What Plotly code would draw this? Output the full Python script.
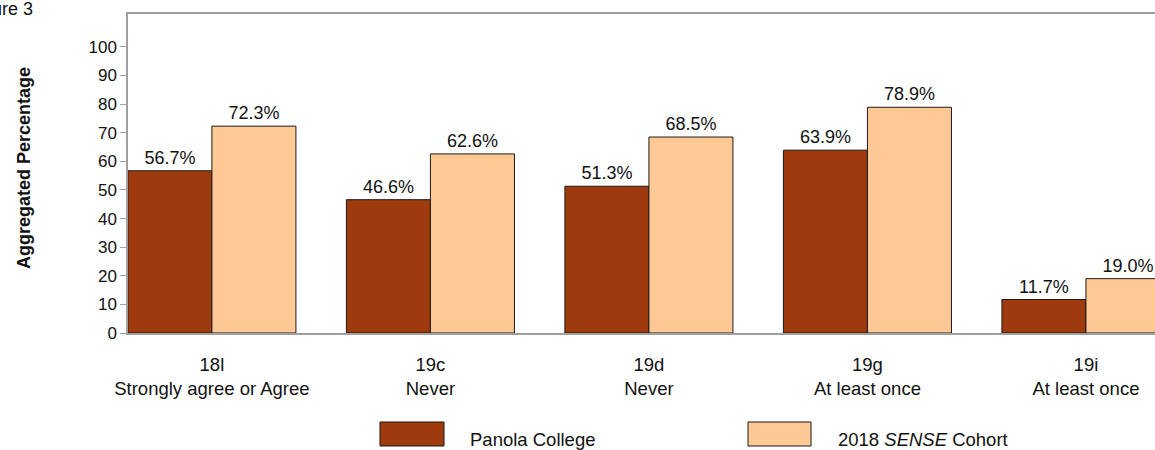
import plotly.graph_objects as go

categories = ["18l<br>Strongly agree or Agree", "19c<br>Never", "19d<br>Never",
              "19g<br>At least once", "19i<br>At least once"]
panola = [56.7, 46.6, 51.3, 63.9, 11.7]
cohort = [72.3, 62.6, 68.5, 78.9, 19.0]
series_names = ["Panola College", "2018 <i>SENSE</i> Cohort"]
y_ticks = [0, 10, 20, 30, 40, 50, 60, 70, 80, 90, 100]

W, H = 1155, 450
# plot-area edges in pixels
L, T, B, R = 128, 14, 333, 1155
FONT = "Arial, Liberation Sans, sans-serif"
C1 = "#9E3A0D"
C2 = "#FFC996"


def px(x):
    return (x - L) / (R - L)


def py(y):
    return (B - y) / (B - T)


fig = go.Figure()
for vals, color, name in [(panola, C1, series_names[0]), (cohort, C2, series_names[1])]:
    fig.add_trace(go.Bar(
        x=categories, y=vals, name=name,
        marker=dict(color=color, line=dict(color="#1a1a1a", width=1)),
        text=[f"{v:.1f}%" for v in vals], textposition="outside",
        textfont=dict(family=FONT, size=18, color="#111"),
        cliponaxis=True, showlegend=False, hoverinfo="skip",
    ))

fig.update_layout(
    width=W, height=H,
    margin=dict(l=L, r=W - R, t=T, b=H - B, pad=0),
    paper_bgcolor="white", plot_bgcolor="white",
    barmode="group", bargap=0.231, bargroupgap=0,
    font=dict(family=FONT, size=17, color="#111"),
    xaxis=dict(
        range=[-0.384, 4.316], showgrid=False, zeroline=False,
        showline=True, linecolor="#a0a0a0", linewidth=2, mirror=True,
        ticks="", tickfont=dict(size=18.5), ticklabelstandoff=14,
    ),
    yaxis=dict(
        range=[0, 111.5], tickvals=y_ticks, showgrid=False, zeroline=False,
        showline=True, linecolor="#a0a0a0", linewidth=1.5,
        ticks="outside", ticklen=6, tickcolor="#a0a0a0", tickwidth=1,
        tickfont=dict(size=17),
    ),
)

# y-axis title
fig.add_annotation(text="<b>Aggregated Percentage</b>", textangle=-90,
                   xref="paper", yref="paper", x=px(24), y=py(168),
                   showarrow=False, font=dict(size=18), xanchor="center", yanchor="middle")
# figure caption (partially cut off at the left edge)
fig.add_annotation(text="Figure 3", xref="paper", yref="paper", x=px(35), y=py(9),
                   showarrow=False, font=dict(size=18), xanchor="right", yanchor="middle")

# legend drawn manually
for (x0, x1, tx), color, name in [((380, 444, 468), C1, series_names[0]),
                                   ((748, 811, 836), C2, series_names[1])]:
    fig.add_shape(type="rect", xref="paper", yref="paper",
                  x0=px(x0), x1=px(x1), y0=py(422), y1=py(446),
                  fillcolor=color, line=dict(color="#1a1a1a", width=1))
    fig.add_annotation(text=name, xref="paper", yref="paper", x=px(tx), y=py(439),
                       showarrow=False, font=dict(size=18.5), xanchor="left", yanchor="middle")

fig.write_html("out.html", config={"displayModeBar": False},
               post_script="document.body.style.margin='0';document.body.style.overflow='hidden';")
